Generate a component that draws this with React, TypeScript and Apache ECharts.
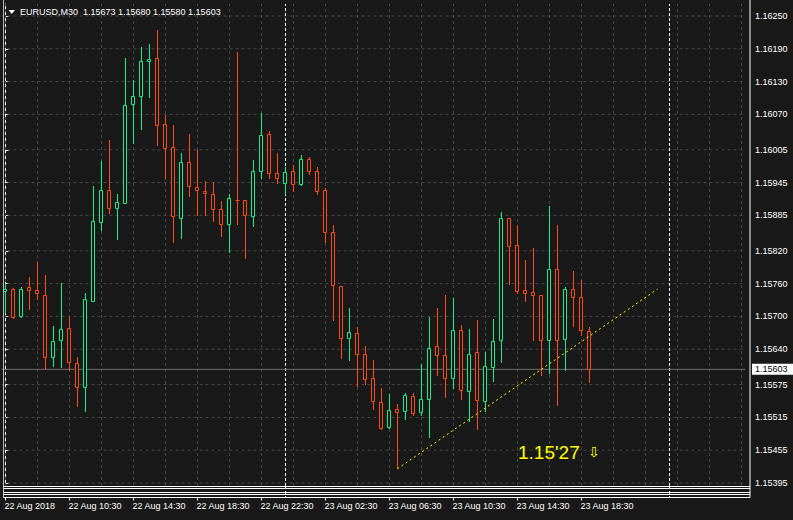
import React, { useEffect, useRef } from "react";
import * as echarts from "echarts";

const SYMBOL = "EURUSD,M30";
const xTickLabels = [
  "22 Aug 2018", "22 Aug 10:30", "22 Aug 14:30", "22 Aug 18:30", "22 Aug 22:30",
  "23 Aug 02:30", "23 Aug 06:30", "23 Aug 10:30", "23 Aug 14:30", "23 Aug 18:30",
];
const priceTicks = [
  1.1625, 1.1619, 1.1613, 1.1607, 1.16005, 1.15945, 1.15885, 1.1582,
  1.1576, 1.157, 1.1564, 1.15575, 1.15515, 1.15455, 1.15395,
];

const opens = [
  1.15746, 1.1575, 1.15701, 1.15753, 1.15748, 1.1574, 1.15626, 1.15656, 1.15678, 1.15614,
  1.1557, 1.15729, 1.15872, 1.15932, 1.15898, 1.15908, 1.16088, 1.16103, 1.16167, 1.16173,
  1.16052, 1.1601, 1.15881, 1.15982, 1.15936, 1.1593, 1.15925, 1.15896, 1.15869, 1.15914,
  1.15913, 1.15883, 1.15967, 1.16034, 1.15962, 1.15944, 1.15966, 1.15942, 1.15988, 1.15966,
  1.15931, 1.15854, 1.15755, 1.1566, 1.15669, 1.15632, 1.15587, 1.15544, 1.15497, 1.1553,
  1.15526, 1.15554, 1.15524, 1.15548, 1.15645, 1.15629, 1.15588, 1.15675, 1.15563, 1.15634,
  1.15545, 1.15607, 1.15656, 1.1588, 1.1583, 1.15748, 1.15744, 1.15739, 1.15656, 1.15786,
  1.15658, 1.1575, 1.15735, 1.15673,
];
const highs = [
  1.15762, 1.15752, 1.15753, 1.15772, 1.158, 1.15775, 1.15682, 1.15761, 1.15698, 1.15625,
  1.15742, 1.15939, 1.15984, 1.16023, 1.15925, 1.16174, 1.16133, 1.16193, 1.16199, 1.16224,
  1.16068, 1.1605, 1.15999, 1.16034, 1.16005, 1.15947, 1.15946, 1.15911, 1.15925, 1.16184,
  1.15914, 1.15986, 1.16073, 1.16039, 1.16, 1.15974, 1.15977, 1.15995, 1.15992, 1.15973,
  1.15935, 1.15867, 1.15756, 1.15715, 1.1568, 1.15646, 1.1562, 1.15568, 1.15558, 1.15539,
  1.15559, 1.15559, 1.15612, 1.15698, 1.15715, 1.15739, 1.15733, 1.15684, 1.15676, 1.15693,
  1.15634, 1.15695, 1.15892, 1.15881, 1.15867, 1.15803, 1.15825, 1.1574, 1.15903, 1.15867,
  1.15753, 1.15783, 1.15766, 1.1568,
];
const lows = [
  1.15706, 1.15697, 1.15699, 1.15714, 1.15732, 1.15604, 1.15609, 1.15607, 1.15602, 1.15535,
  1.15527, 1.15728, 1.15858, 1.15889, 1.15842, 1.15907, 1.16017, 1.16043, 1.16102, 1.16014,
  1.15953, 1.15837, 1.15844, 1.15921, 1.15885, 1.15885, 1.15875, 1.15848, 1.15817, 1.15869,
  1.15806, 1.15866, 1.15953, 1.15953, 1.15945, 1.15925, 1.1593, 1.15941, 1.1596, 1.15925,
  1.15836, 1.15693, 1.15624, 1.15621, 1.15573, 1.15576, 1.15531, 1.15493, 1.15495, 1.15422,
  1.15513, 1.15519, 1.15519, 1.1548, 1.15592, 1.15553, 1.15568, 1.15548, 1.15509, 1.15493,
  1.15526, 1.15582, 1.15616, 1.15759, 1.15742, 1.15728, 1.15656, 1.15592, 1.15596, 1.15537,
  1.15601, 1.15682, 1.15665, 1.1558,
];
const closes = [
  1.1575, 1.15699, 1.15751, 1.15748, 1.15742, 1.15625, 1.15655, 1.15676, 1.15616, 1.1557,
  1.15731, 1.15874, 1.15931, 1.15898, 1.15909, 1.16087, 1.16104, 1.16167, 1.16171, 1.1605,
  1.16008, 1.15883, 1.15982, 1.15938, 1.15931, 1.15926, 1.15896, 1.15869, 1.15916, 1.15913,
  1.15885, 1.15966, 1.16032, 1.15962, 1.15954, 1.15964, 1.15942, 1.15988, 1.15966, 1.15929,
  1.15854, 1.15757, 1.1566, 1.15671, 1.15631, 1.15586, 1.15545, 1.15495, 1.15528, 1.15524,
  1.15556, 1.15523, 1.15548, 1.15643, 1.15629, 1.15588, 1.15675, 1.15565, 1.15632, 1.15546,
  1.15609, 1.15654, 1.15881, 1.15828, 1.15746, 1.15742, 1.15739, 1.15656, 1.15786, 1.15656,
  1.15751, 1.15735, 1.15675, 1.15603,
];

const trendX = [49, 81.5];
const trendY = [1.15421, 1.1575];
const separatorIdx = [35, 83];
const levelText = "1.15'27";

const SLOTS = 93;
const Y_MIN = 1.153894;
const Y_MAX = 1.16272;

const BG = "#1a1919";
const BULL = "#19f08a";
const BEAR = "#ff4a12";
const GRID = "#474747";
const FONT = "Liberation Sans";

function buildCategories(): string[] {
  const out: string[] = [];
  let day = 22;
  let mins = 6 * 60 + 30;
  for (let i = 0; i < SLOTS; i++) {
    const h = Math.floor(mins / 60);
    const m = mins % 60;
    out.push(`${day} Aug ${String(h).padStart(2, "0")}:${String(m).padStart(2, "0")}`);
    mins += 30;
    if (mins >= 24 * 60) {
      mins -= 24 * 60;
      day += 1;
    }
  }
  return out;
}

function segment(points: number[][], color: string, dash: any, z: number) {
  return {
    type: "line",
    xAxisIndex: 1,
    data: points,
    symbol: "none",
    silent: true,
    z,
    lineStyle: { color, type: dash, width: 1 },
  };
}

function renderCandle(_params: any, api: any) {
  const idx = api.value(0);
  const o = api.value(1);
  const c = api.value(2);
  const l = api.value(3);
  const h = api.value(4);
  const pO = api.coord([idx, o]);
  const pC = api.coord([idx, c]);
  const pL = api.coord([idx, l]);
  const pH = api.coord([idx, h]);
  const cx = Math.floor(pO[0]) + 0.5;
  const color = c >= o ? BULL : BEAR;
  const top = Math.round(Math.min(pO[1], pC[1]));
  const bot = Math.round(Math.max(pO[1], pC[1]));
  const children: any[] = [
    {
      type: "line",
      shape: { x1: cx, y1: Math.round(pH[1]), x2: cx, y2: Math.round(pL[1]) + 1 },
      style: { stroke: color, lineWidth: 1 },
    },
  ];
  if (bot - top >= 1) {
    children.push({
      type: "rect",
      shape: { x: cx - 2, y: top + 0.5, width: 3, height: bot - top },
      style: { fill: BG, stroke: color, lineWidth: 1 },
    });
  } else {
    children.push({
      type: "line",
      shape: { x1: cx - 2, y1: top + 0.5, x2: cx + 2, y2: top + 0.5 },
      style: { stroke: color, lineWidth: 1 },
    });
  }
  return { type: "group", children };
}

export default function App() {
  const ref = useRef<HTMLDivElement>(null);

  useEffect(() => {
    const chart = echarts.init(ref.current!, null, { renderer: "svg" });
    const categories = buildCategories();
    const candles = opens.map((o, i) => [i, o, closes[i], lows[i], highs[i]]);
    const n = opens.length;
    const last = n - 1;
    const vGrid: number[] = [];
    for (let v = 0; v < SLOTS; v += 4) vGrid.push(v);
    const xLo = -0.5;
    const xHi = SLOTS - 0.5;

    const series: any[] = [
      ...priceTicks.map((v) => segment([[xLo, v], [xHi, v]], GRID, [3, 3], 1)),
      ...vGrid.map((v) => segment([[v, Y_MIN], [v, Y_MAX]], GRID, [3, 3], 1)),
      ...separatorIdx.map((v) => segment([[v, Y_MIN], [v, Y_MAX]], "#ffffff", [3, 2], 2)),
      segment([[xLo, closes[last]], [xHi, closes[last]]], "#6e6e6e", "solid", 2),
      segment(trendX.map((x, i) => [x, trendY[i]]), "#ffff00", [2, 3], 5),
      {
        type: "custom",
        xAxisIndex: 0,
        data: candles,
        encode: { x: 0, y: [1, 2, 3, 4] },
        renderItem: renderCandle,
        clip: false,
        silent: true,
        z: 4,
      },
    ];
    const trendIndex = series.length - 2;

    const option: any = {
      animation: false,
      backgroundColor: BG,
      grid: { left: 1.5, top: 4, width: SLOTS * 8, height: 482 },
      xAxis: [
        {
          type: "category",
          data: categories,
          boundaryGap: true,
          offset: 11.5,
          axisLine: { show: false },
          axisTick: {
            show: true,
            alignWithLabel: true,
            length: 3,
            interval: (i: number) => i % 8 === 0 && i < n,
            lineStyle: { color: "#ffffff" },
          },
          axisLabel: {
            show: true,
            interval: (i: number) => i % 8 === 0 && i < n,
            formatter: (_v: string, i: number) => xTickLabels[i / 8] ?? "",
            color: "#ffffff",
            fontSize: 9,
            fontFamily: FONT,
            align: "left",
            margin: 4,
            padding: [0, 0, 0, -1],
          },
          splitLine: { show: false },
        },
        {
          type: "value",
          min: xLo,
          max: xHi,
          show: false,
        },
      ],
      yAxis: {
        type: "value",
        position: "right",
        min: Y_MIN,
        max: Y_MAX,
        offset: 4.5,
        axisLine: { show: true, lineStyle: { color: "#ffffff", width: 1 } },
        axisTick: {
          show: true,
          length: 3,
          customValues: priceTicks,
          lineStyle: { color: "#ffffff" },
        },
        axisLabel: {
          customValues: priceTicks,
          formatter: (v: number) => v.toFixed(5),
          color: "#ffffff",
          fontSize: 9,
          fontFamily: FONT,
          margin: 5,
        },
        splitLine: { show: false },
      },
      series,
    };
    chart.setOption(option);

    const priceY = chart.convertToPixel({ yAxisIndex: 0 }, closes[last]) as number;
    const sepXs = separatorIdx.map(
      (v) => (chart.convertToPixel({ seriesIndex: trendIndex }, [v, Y_MIN]) as number[])[0]
    );
    const subLines = [486.5, 488.5, 492.5, 494.5, 497.5];
    const header = `${SYMBOL}  ${opens[last].toFixed(5)} ${highs[last].toFixed(5)} ${lows[last].toFixed(5)} ${closes[last].toFixed(5)}`;

    const graphic: any[] = [
      { type: "line", shape: { x1: 3.5, y1: 0, x2: 3.5, y2: 497.5 }, style: { stroke: "#b8b8b8", lineWidth: 1 }, z: 10 },
      { type: "line", shape: { x1: 750, y1: 0, x2: 750, y2: 497.5 }, style: { stroke: "#ffffff", lineWidth: 1 }, z: 10 },
      ...subLines.map((y) => ({
        type: "line",
        shape: { x1: 3.5, y1: y, x2: 750, y2: y },
        style: { stroke: "#ffffff", lineWidth: 1 },
        z: 10,
      })),
      ...sepXs.map((x) => ({
        type: "line",
        shape: { x1: x, y1: 486, x2: x, y2: 497.5 },
        style: { stroke: "#ffffff", lineWidth: 1, lineDash: [3, 2] },
        z: 11,
      })),
      {
        type: "polygon",
        shape: { points: [[8.5, 10], [15, 10], [11.75, 14]] },
        style: { fill: "#ffffff" },
        z: 10,
      },
      {
        type: "text",
        x: 20,
        y: 12,
        style: { text: header, fill: "#ffffff", font: `9px "${FONT}"`, verticalAlign: "middle" },
        z: 10,
      },
      {
        type: "rect",
        shape: { x: 752, y: priceY - 5.5, width: 41, height: 11 },
        style: { fill: "#ffffff" },
        z: 12,
      },
      {
        type: "text",
        x: 755,
        y: priceY,
        style: { text: closes[last].toFixed(5), fill: "#000000", font: `9px "${FONT}"`, verticalAlign: "middle" },
        z: 13,
      },
      {
        type: "text",
        x: 518,
        y: 452,
        style: { text: levelText, fill: "#ffff00", font: `19px "${FONT}"`, verticalAlign: "middle" },
        z: 12,
      },
      {
        type: "text",
        x: 588,
        y: 452,
        style: { text: "\u21E9", fill: "#ffff00", font: `14px "DejaVu Sans"`, verticalAlign: "middle" },
        z: 12,
      },
    ];
    chart.setOption({ graphic });

    return () => chart.dispose();
  }, []);

  return (
    <div
      ref={ref}
      style={{ position: "fixed", left: 0, top: 0, width: 793, height: 520, background: BG }}
    />
  );
}
